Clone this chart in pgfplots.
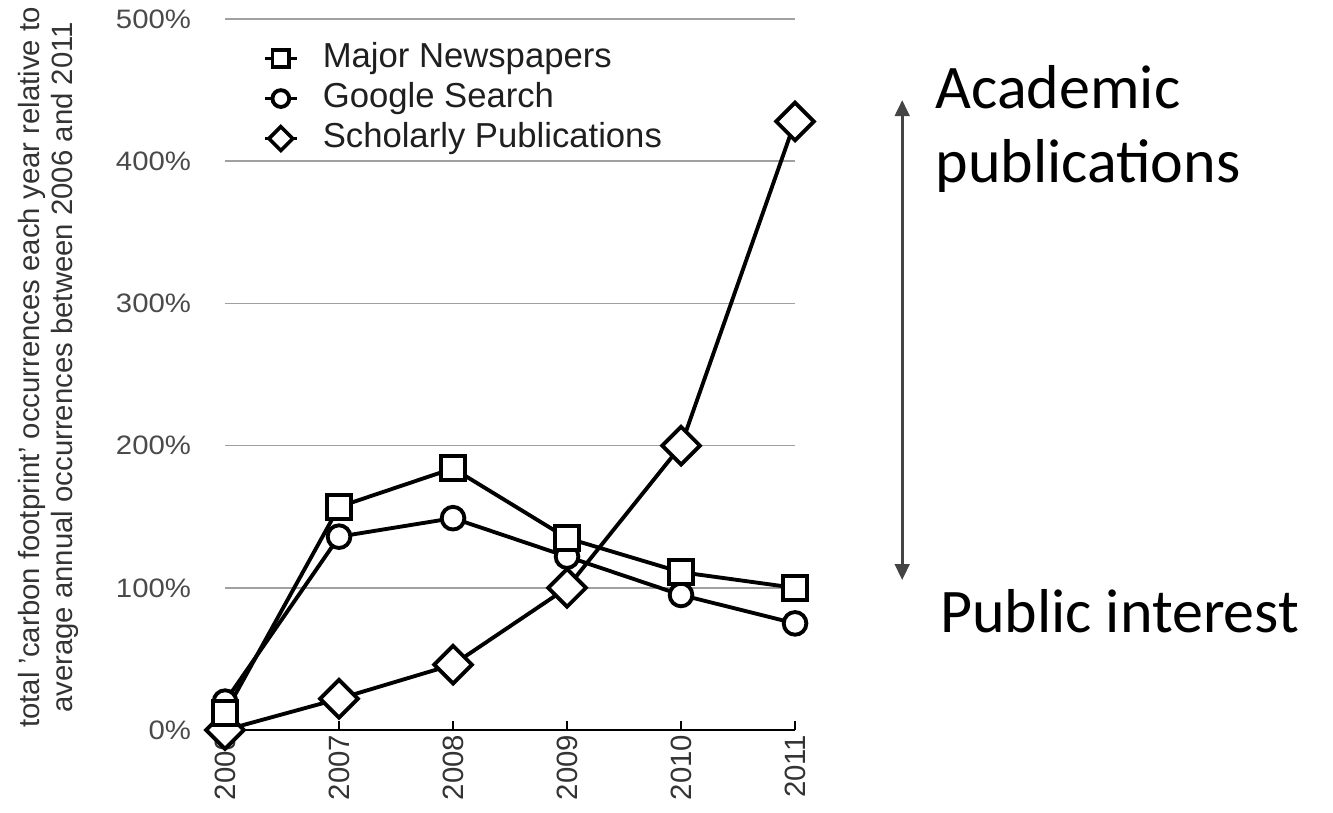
\documentclass[border=0pt]{standalone}
\usepackage{fontspec}
\setmainfont{Liberation Sans}
\newfontfamily\annfont{Carlito}
\newfontfamily\widefont[FakeStretch=1.1]{Liberation Sans}
\usepackage{pgfplots}
\pgfplotsset{compat=1.18}
\usetikzlibrary{arrows.meta}
\definecolor{tickgray}{HTML}{4A4A4A}
\definecolor{xgray}{HTML}{333333}
\definecolor{labgray}{HTML}{333333}
\definecolor{gridgray}{HTML}{A0A0A0}
\definecolor{arrowgray}{HTML}{444444}
\pgfplotsset{ser/.style={black, line width=2.9pt, mark options={fill=white, solid, line width=2.9pt}}}
\begin{document}
\begin{tikzpicture}
\begin{axis}[
  scale only axis, width=427.5pt, height=533.25pt,
  xmin=2006, xmax=2011, ymin=0, ymax=500,
  clip=false,
  axis x line*=bottom, axis y line*=left,
  y axis line style={draw=none},
  x axis line style={black, line width=1.6pt, -},
  xtick={2006,2007,2008,2009,2010,2011},
  xticklabels={2006,2007,2008,2009,2010,2011},
  ytick={0,100,200,300,400,500},
  yticklabels={0\%,100\%,200\%,300\%,400\%,500\%},
  ymajorgrids, grid style={color=gridgray, line width=1.2pt},
  ytick style={draw=none},
  xtick style={black, line width=1.5pt},
  major tick length=7pt, tick align=inside,
  xticklabel style={rotate=90, anchor=east, font=\fontsize{22}{26}\selectfont, color=xgray},
  yticklabel style={font=\widefont\fontsize{20}{24}\selectfont, color=tickgray, xshift=-22pt},
  legend style={at={(rel axis cs:0.059,0.972)}, anchor=north west, draw=none, fill=none,
    font=\fontsize{26}{30}\selectfont, text=black!88, row sep=5pt,
    nodes={inner sep=1pt, text height=18pt, text depth=5pt},
    /tikz/every odd column/.append style={column sep=17pt}},
  legend cell align=left,
  legend image code/.code={
    \draw[#1, mark=none] (0pt,0pt) -- (24pt,0pt);
    \draw[#1, mark size=6.3pt, line width=2.7pt] plot coordinates {(12pt,0pt)};
  },
]
\addlegendimage{ser, mark=square*}
\addlegendentry{Major Newspapers}
\addlegendimage{ser, mark=*}
\addlegendentry{Google Search}
\addlegendimage{ser, mark=square*, mark options={rotate=45, fill=white, solid, line width=2.7pt}}
\addlegendentry{Scholarly Publications}

% Google Search
\addplot[ser, mark=*, mark size=8.5pt, forget plot] coordinates {
(2006,20) (2007,136) (2008,149) (2009,122) (2010,95) (2011,75)};
% Scholarly Publications
\addplot[ser, mark=square*, mark size=10pt, mark options={rotate=45, fill=white, solid, line width=2.9pt}, forget plot] coordinates {
(2006,0) (2007,22) (2008,46) (2009,100) (2010,200) (2011,428)};
% Major Newspapers
\addplot[ser, mark=square*, mark size=9pt, forget plot] coordinates {
(2006,12) (2007,157) (2008,184) (2009,135) (2010,111) (2011,100)};

% y label
\node[rotate=90, align=center, font=\fontsize{22}{24.75}\selectfont, text=labgray]
  at (axis cs:2004.452,255) {total 'carbon footprint' occurrences each year relative to\\ average annual occurrences between 2006 and 2011};

% annotation
\draw[{Triangle[length=12pt,width=11pt]}-{Triangle[length=12pt,width=11pt]}, line width=2pt, draw=arrowgray, fill=arrowgray]
  (axis cs:2011.94,443) -- (axis cs:2011.94,105.5);
\node[anchor=base west, inner sep=0pt, font=\annfont\fontsize{46.5}{56}\selectfont] at (axis cs:2012.23,437.4) {Academic};
\node[anchor=base west, inner sep=0pt, font=\annfont\fontsize{46.5}{56}\selectfont] at (axis cs:2012.23,385) {publications};
\node[anchor=base west, inner sep=0pt, font=\annfont\fontsize{46.5}{56}\selectfont] at (axis cs:2012.27,68.9) {Public interest};

\path (axis cs:2004.026,-57.7) rectangle (axis cs:2015.719,513.4);
\end{axis}
\end{tikzpicture}
\end{document}
